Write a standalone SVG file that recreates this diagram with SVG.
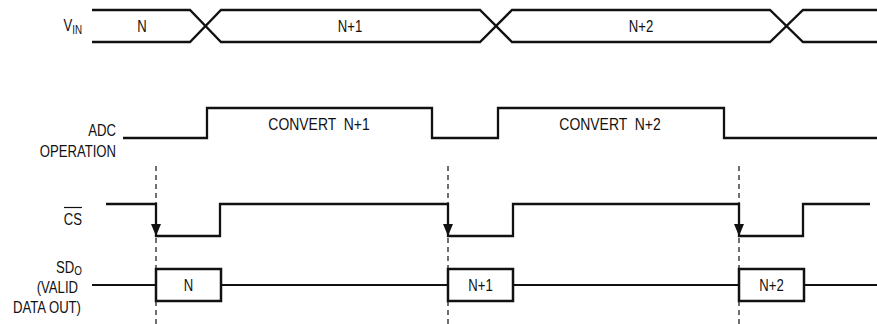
<svg xmlns="http://www.w3.org/2000/svg" width="877" height="324" viewBox="0 0 877 324">
<style>
text{font-family:"Liberation Sans",Arial,sans-serif;font-size:16px;fill:#111}
.sig{fill:none;stroke:#111;stroke-width:2.3;stroke-linejoin:miter}
.thin{fill:none;stroke:#111;stroke-width:1.9}
.box{fill:#fff;stroke:#111;stroke-width:2.5}
.dash{stroke:#111;stroke-width:1.2;stroke-dasharray:5,4;fill:none}
.mid{text-anchor:middle}
.end{text-anchor:end}
.big{font-size:17px;white-space:pre}
.sub{font-size:12px}
</style>

<g id="vin">
<text transform="translate(82,31) scale(0.82,1)" class="end">V<tspan class="sub" dy="3">IN</tspan></text>
<path class="sig" d="M92,10 H190 L221,42 H480 L512,10 H770 L803,42 H877"/>
<path class="sig" d="M92,42 H190 L221,10 H480 L512,42 H770 L803,10 H877"/>
<text transform="translate(142,32) scale(0.82,1)" class="mid">N</text>
<text transform="translate(350,32) scale(0.82,1)" class="mid">N+1</text>
<text transform="translate(641,32) scale(0.82,1)" class="mid">N+2</text>
</g>

<g id="adc">
<text transform="translate(116,136) scale(0.82,1)" class="end">ADC</text>
<text transform="translate(116,157) scale(0.82,1)" class="end">OPERATION</text>
<path class="sig" d="M123,138 H207 V108 H432 V138 H498 V108 H724 V138 H877"/>
<text transform="translate(319,130) scale(0.82,1)" class="mid big" xml:space="preserve">CONVERT  N+1</text>
<text transform="translate(610,130) scale(0.82,1)" class="mid big" xml:space="preserve">CONVERT  N+2</text>
</g>

<g id="connectors">
<line class="dash" x1="156" y1="166" x2="156" y2="324"/>
<line class="dash" x1="448" y1="166" x2="448" y2="324"/>
<line class="dash" x1="739" y1="166" x2="739" y2="324"/>
</g>

<g id="cs">
<text transform="translate(82,225) scale(0.82,1)" class="end">CS</text>
<line x1="64" y1="207.5" x2="82" y2="207.5" stroke="#111" stroke-width="1.2"/>
<path class="sig" d="M106,204 H156 V236 H220 V204 H448 V236 H513 V204 H739 V236 H803 V204 H870"/>
<path d="M151,224 L161,224 L156,236 Z" fill="#111"/>
<path d="M443,224 L453,224 L448,236 Z" fill="#111"/>
<path d="M734,224 L744,224 L739,236 Z" fill="#111"/>
</g>

<g id="sdo">
<text transform="translate(82,273) scale(0.82,1)" class="end">SD<tspan class="sub" dy="2">O</tspan></text>
<text transform="translate(78,293) scale(0.82,1)" class="end">(VALID</text>
<text transform="translate(81,313) scale(0.82,1)" class="end">DATA OUT)</text>
<path class="thin" d="M92,285 H877"/>
<rect class="box" x="156" y="269" width="65" height="32"/>
<rect class="box" x="448" y="269" width="65" height="32"/>
<rect class="box" x="739" y="269" width="65" height="32"/>
<text transform="translate(188.5,291) scale(0.82,1)" class="mid">N</text>
<text transform="translate(480.5,291) scale(0.82,1)" class="mid">N+1</text>
<text transform="translate(771.5,291) scale(0.82,1)" class="mid">N+2</text>
</g>
</svg>
